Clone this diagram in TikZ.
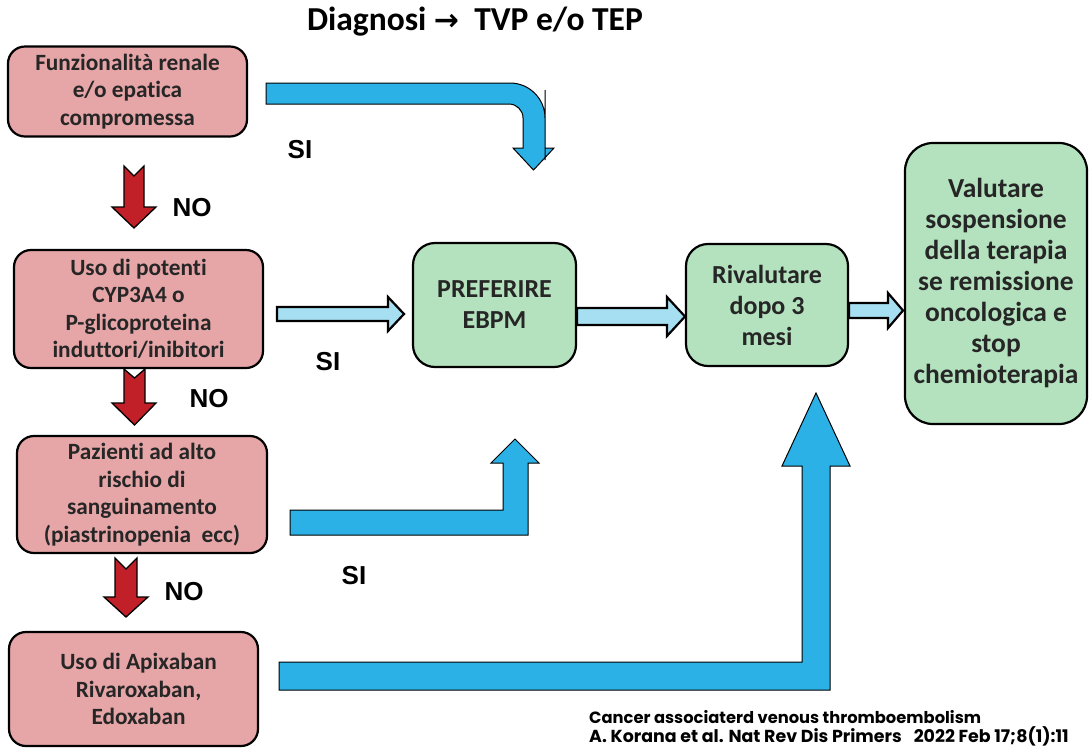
\documentclass[tikz,border=0pt]{standalone}
\usepackage{fontspec}
\setmainfont{Carlito}[Ligatures=NoCommon]
\newfontfamily\arialfont{Liberation Sans}
\newfontfamily\djvfont{DejaVu Sans}
\newfontfamily\citefont{Poppins}
\definecolor{boxpink}{RGB}{230,165,167}
\definecolor{boxgreen}{RGB}{180,226,190}
\definecolor{arrowblue}{RGB}{44,177,230}
\definecolor{lightarrow}{RGB}{166,223,242}
\definecolor{arrowred}{RGB}{193,32,40}
\definecolor{textgray}{RGB}{38,38,38}
\tikzset{
  pinkbox/.style={draw=black, line width=2.2pt, fill=boxpink, rounded corners=17pt,
    align=center, inner sep=0pt, text=textgray,
    font=\bfseries\fontsize{23.3}{27.5}\selectfont},
  greenbox/.style={draw=black, line width=2.2pt, fill=boxgreen, rounded corners=22pt,
    align=center, inner sep=0pt, text=textgray,
    font=\bfseries\fontsize{26}{31}\selectfont},
  bluearrow/.style={fill=arrowblue, draw=black, line width=1pt, line join=miter},
  lightblock/.style={fill=lightarrow, draw=black, line width=2.2pt, line join=miter},
  redblock/.style={fill=arrowred, draw=black, line width=1.3pt, line join=miter},
  yesno/.style={font=\arialfont\bfseries\fontsize{26}{30}\selectfont, inner sep=0pt}
}
\begin{document}
\begin{tikzpicture}[x=1pt,y=-1pt]
\useasboundingbox (0,0) rectangle (1089,748);

% title
\node[font=\bfseries\fontsize{33.5}{36}\selectfont, inner sep=0pt] (title) at (475,22)
  {Diagnosi\ {\djvfont\bfseries\fontsize{30}{32}\selectfont →}\ \ TVP e/o TEP};

% boxes
\node[pinkbox, minimum width=239pt, minimum height=90pt] (b1) at (127.5,91.5)
  {Funzionalità renale\\e/o epatica\\compromessa};
\node[pinkbox, minimum width=249pt, minimum height=118pt] (b2) at (138.5,309)
  {Uso di potenti\\CYP3A4 o\\P-glicoproteina\\induttori/inibitori};
\node[pinkbox, minimum width=250pt, minimum height=117pt] (b3) at (142,494.5)
  {Pazienti ad alto\\rischio di\\sanguinamento\\(piastrinopenia\ \ ecc)};
\node[pinkbox, minimum width=249pt, minimum height=114pt] (b4) at (133.5,689)
  {\hspace*{10pt}Uso di Apixaban\\\hspace*{10pt}Rivaroxaban,\\\hspace*{10pt}Edoxaban};
\node[greenbox, minimum width=163pt, minimum height=124pt] (pref) at (494.5,305)
  {PREFERIRE\\EBPM};
\node[greenbox, minimum width=162pt, minimum height=122pt] (rival) at (767,305)
  {Rivalutare\\dopo 3\\mesi};
\node[greenbox, rounded corners=28pt, minimum width=182pt, minimum height=281pt,
  font=\bfseries\fontsize{27.5}{31}\selectfont] (valut) at (996,283.5)
  {Valutare\\sospensione\\della terapia\\se remissione\\oncologica e\\stop\\chemioterapia};

% red NO arrows
\draw[redblock] (124,166) -- (134,176) -- (144,166) -- (144,207) -- (156,207) -- (134,228)
  -- (112,207) -- (124,207) -- cycle;
\draw[redblock] (124,369) -- (134.5,378) -- (145,369) -- (145,403) -- (156,403) -- (134.5,425)
  -- (112,403) -- (124,403) -- cycle;
\draw[redblock] (115,558) -- (126,569) -- (137,558) -- (137,597) -- (148,597) -- (126,617)
  -- (104,597) -- (115,597) -- cycle;

\node[yesno] (no1) at (192,208) {NO};
\node[yesno] (no2) at (209,399) {NO};
\node[yesno] (no3) at (184,592) {NO};

% blue SI arrows
\draw[bluearrow] (266,83) [rounded corners=35pt] -- (545,83) -- (545,125) [sharp corners]
  -- (545,148) -- (554,148) -- (533.5,170) -- (513,148) -- (523,148) -- (523,125)
  [rounded corners=14pt] -- (523,104) -- (495,104) [sharp corners] -- (266,104) -- cycle;
\draw[bluearrow] (290,510) -- (503,510) -- (503,463) -- (491,463) -- (515,439) -- (539,463)
  -- (528,463) -- (528,535) -- (290,535) -- cycle;
\draw[bluearrow] (279,662) -- (802,662) -- (802,466) -- (782,466) -- (816,393) -- (850,466)
  -- (830,466) -- (830,690) -- (279,690) -- cycle;

\node[yesno] (si1) at (300,150) {SI};
\node[yesno] (si2) at (328,362) {SI};
\node[yesno] (si3) at (354,576) {SI};

% light blue straight arrows
\draw[lightblock] (277,307) -- (388,307) -- (388,297) -- (404,314) -- (388,331) -- (388,321)
  -- (277,321) -- cycle;
\draw[lightblock] (pref.east |- 0,308) -- (667,308) -- (667,297) -- (685,316.5) -- (667,336)
  -- (667,325) -- (pref.east |- 0,325) -- cycle;
\draw[lightblock] (rival.east |- 0,303) -- (888,303) -- (888,293) -- (903,310.5) -- (888,328)
  -- (888,318) -- (rival.east |- 0,318) -- cycle;

% citation
\node[anchor=north west, align=left, inner sep=0pt,
  font=\citefont\bfseries\fontsize{16.3}{19}\selectfont] (cite) at (589,710)
  {Cancer associaterd venous thromboembolism\\{\fontsize{17.4}{19}\selectfont A. Korana et al. Nat Rev Dis Primers\hspace{12pt}2022 Feb 17;8(1):11}};
\end{tikzpicture}
\end{document}
